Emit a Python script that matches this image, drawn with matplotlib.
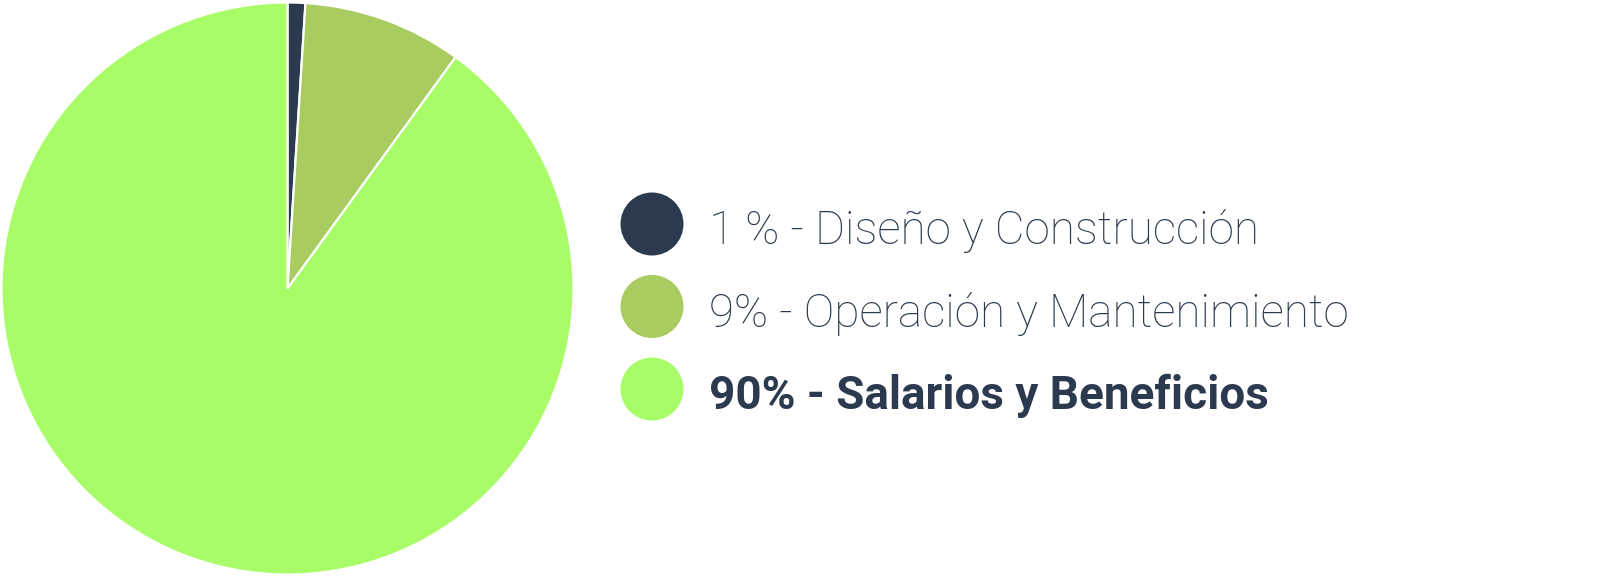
import matplotlib
matplotlib.use("Agg")
import matplotlib.pyplot as plt
from matplotlib.patches import Ellipse

plt.rcParams['font.family'] = ['Roboto', 'DejaVu Sans']

# datos
categorias = ["Diseño y Construcción", "Operación y Mantenimiento", "Salarios y Beneficios"]
porcentajes = [1, 9, 90]
etiquetas_pct = ["1 %", "9%", "90%"]
colores = ["#2c3a4f", "#a8cc60", "#a8fc68"]
texto_color = "#2c3a4f"

W, H = 1610, 577
fig = plt.figure(figsize=(W / 100, H / 100), dpi=100)

# pastel
cx, cy, r = 287.5, 288.5, 286
ax = fig.add_axes([(cx - r) / W, (H - cy - r) / H, 2 * r / W, 2 * r / H])
ax.pie(porcentajes, colors=colores, startangle=90, counterclock=False,
       wedgeprops=dict(edgecolor="white", linewidth=1.6), radius=1)
ax.set_xlim(-1, 1)
ax.set_ylim(-1, 1)
ax.axis("off")

# leyenda
lx, tx = 652, 709
ys = [224, 306.5, 389]
rad = 31.5
for i, (cat, pct, col) in enumerate(zip(categorias, etiquetas_pct, colores)):
    y = ys[i]
    c = Ellipse((lx / W, 1 - y / H), 2 * rad / W, 2 * rad / H,
                transform=fig.transFigure, facecolor=col, edgecolor="none")
    fig.patches.append(c)
    bold = i == len(categorias) - 1
    fig.text(tx / W, 1 - (y + 20) / H, f"{pct} - {cat}", color=texto_color,
             fontsize=33, fontweight="bold" if bold else "light",
             va="baseline", ha="left")

fig.savefig("out.png", dpi=100)
